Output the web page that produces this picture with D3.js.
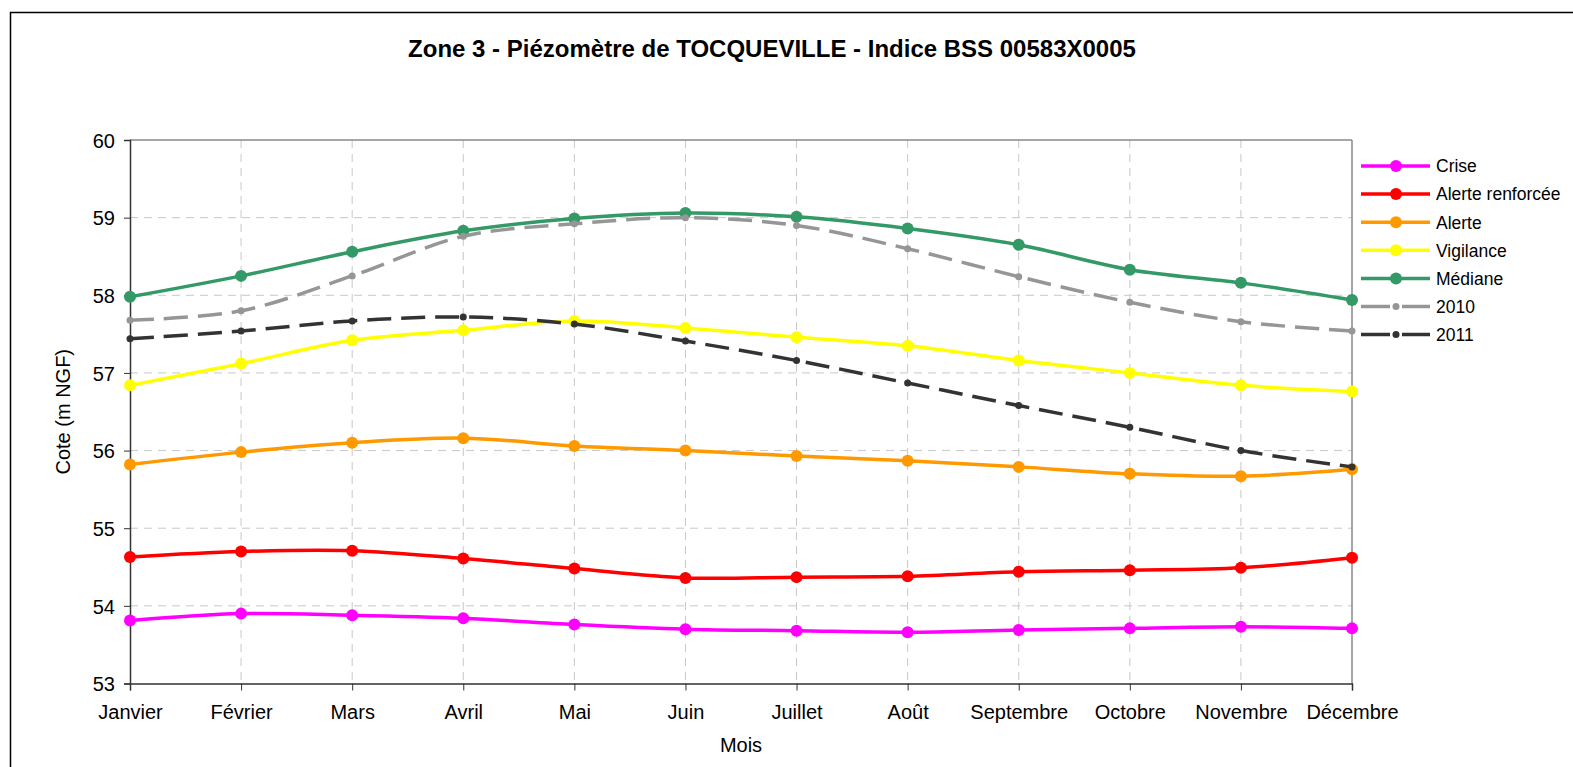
<!DOCTYPE html>
<html>
<head>
<meta charset="utf-8">
<script src="https://cdn.jsdelivr.net/npm/d3@7"></script>
<style>
	html, body { margin: 0; background: #fff; overflow: hidden; }
	svg { display: block; }
	text { font-family: "Liberation Sans", Arial, sans-serif; }
</style>
</head>
<body>
<div id="chart"></div>
<script>
var months = ["Janvier", "Février", "Mars", "Avril", "Mai", "Juin", "Juillet", "Août", "Septembre", "Octobre", "Novembre", "Décembre"];
var yTicks = [53, 54, 55, 56, 57, 58, 59, 60];

var crise = [53.81, 53.90, 53.88, 53.84, 53.76, 53.70, 53.68, 53.66, 53.69, 53.71, 53.73, 53.71];
var alerteRenforcee = [54.63, 54.70, 54.71, 54.61, 54.48, 54.36, 54.37, 54.38, 54.44, 54.46, 54.49, 54.62];
var alerte = [55.82, 55.98, 56.10, 56.16, 56.06, 56.00, 55.93, 55.87, 55.79, 55.70, 55.67, 55.76];
var vigilance = [56.84, 57.12, 57.42, 57.55, 57.67, 57.58, 57.46, 57.35, 57.16, 57.00, 56.84, 56.76];
var mediane = [57.98, 58.25, 58.56, 58.83, 58.99, 59.06, 59.01, 58.86, 58.65, 58.33, 58.16, 57.94];
var y2010 = [57.68, 57.80, 58.25, 58.76, 58.92, 59.00, 58.90, 58.60, 58.24, 57.91, 57.66, 57.54];
var y2011 = [57.44, 57.54, 57.67, 57.72, 57.63, 57.41, 57.16, 56.87, 56.58, 56.30, 56.00, 55.79];

var seriesNames = ["Crise", "Alerte renforcée", "Alerte", "Vigilance", "Médiane", "2010", "2011"];
var seriesValues = [crise, alerteRenforcee, alerte, vigilance, mediane, y2010, y2011];
var seriesColors = ["#ff00ff", "#ff0000", "#ff9900", "#ffff00", "#339966", "#969696", "#333333"];
var seriesDashed = [false, false, false, false, false, true, true];

var conf = {
	width: 1573, height: 767,
	left: 130, right: 1352, top: 140, bottom: 683.5
};

var $svg = d3.select("#chart").append("svg")
	.attr("width", conf.width)
	.attr("height", conf.height);

// outer frame (right / bottom edges run off the picture)
$svg.append("rect")
	.attr("x", 10.5).attr("y", 12.5)
	.attr("width", conf.width).attr("height", conf.height)
	.attr("fill", "none")
	.attr("stroke", "#000")
	.attr("stroke-width", 1.5);

var x = d3.scalePoint()
	.domain(months)
	.range([conf.left, conf.right]);

var y = d3.scaleLinear()
	.domain([53, 60])
	.range([conf.bottom, conf.top]);

// grid
var $grid = $svg.append("g").attr("class", "grid");
$grid.selectAll("line.hgrid").data(yTicks.slice(1, -1)).enter()
	.append("line")
	.attr("class", "hgrid")
	.attr("x1", conf.left).attr("x2", conf.right)
	.attr("y1", function(d) { return y(d); })
	.attr("y2", function(d) { return y(d); })
	.attr("stroke", "#c8c8c8")
	.attr("stroke-dasharray", "8,6");
$grid.selectAll("line.vgrid").data(months.slice(1, -1)).enter()
	.append("line")
	.attr("class", "vgrid")
	.attr("y1", conf.top).attr("y2", conf.bottom)
	.attr("x1", function(d) { return x(d); })
	.attr("x2", function(d) { return x(d); })
	.attr("stroke", "#c8c8c8")
	.attr("stroke-dasharray", "8,6");

// plot area top / right border
$svg.append("line")
	.attr("x1", conf.left).attr("x2", conf.right)
	.attr("y1", conf.top).attr("y2", conf.top)
	.attr("stroke", "#888").attr("stroke-width", 1.5);
$svg.append("line")
	.attr("x1", conf.right).attr("x2", conf.right)
	.attr("y1", conf.top).attr("y2", conf.bottom)
	.attr("stroke", "#888").attr("stroke-width", 1.5);

// axes
var $yAxis = $svg.append("g")
	.attr("transform", "translate(" + conf.left + ",0)")
	.call(d3.axisLeft(y).tickValues(yTicks).tickSize(6).tickPadding(9).tickFormat(d3.format("d")));
var $xAxis = $svg.append("g")
	.attr("transform", "translate(0," + conf.bottom + ")")
	.call(d3.axisBottom(x).tickSize(7).tickPadding(14));

[$xAxis, $yAxis].forEach(function($a) {
	$a.select(".domain").attr("stroke", "#333").attr("stroke-width", 1.5);
	$a.selectAll(".tick line").attr("stroke", "#333");
	$a.selectAll(".tick text")
		.attr("fill", "#000")
		.style("font-size", "20px");
});
$yAxis.selectAll(".tick text").attr("dy", "0.36em");

// series
var line = d3.line()
	.x(function(d, i) { return x(months[i]); })
	.y(function(d) { return y(d); })
	.curve(d3.curveCatmullRom.alpha(0.5));

seriesValues.forEach(function(vals, s_i) {
	var $s = $svg.append("g").attr("class", "series");
	$s.append("path")
		.attr("d", line(vals))
		.attr("fill", "none")
		.attr("stroke", seriesColors[s_i])
		.attr("stroke-width", 3.5)
		.attr("stroke-dasharray", seriesDashed[s_i] ? "24,10" : null);
	$s.selectAll("circle").data(vals).enter()
		.append("circle")
		.attr("cx", function(d, i) { return x(months[i]); })
		.attr("cy", function(d) { return y(d); })
		.attr("r", seriesDashed[s_i] ? 3.5 : 6)
		.attr("fill", seriesColors[s_i]);
});

// legend
var $legend = $svg.append("g").attr("transform", "translate(1361,166)");
var legendItems = $legend.selectAll("g").data(seriesNames).enter()
	.append("g")
	.attr("transform", function(d, i) { return "translate(0," + (i * 28.1) + ")"; });
legendItems.append("line")
	.attr("x1", 0).attr("x2", 69)
	.attr("stroke", function(d, i) { return seriesColors[i]; })
	.attr("stroke-width", 3.5)
	.attr("stroke-dasharray", function(d, i) { return seriesDashed[i] ? "29,12" : null; });
legendItems.append("circle")
	.attr("cx", 35)
	.attr("r", function(d, i) { return seriesDashed[i] ? 3.5 : 6; })
	.attr("fill", function(d, i) { return seriesColors[i]; });
legendItems.append("text")
	.attr("x", 75)
	.attr("dy", "0.36em")
	.style("font-size", "17.5px")
	.text(function(d) { return d; });

// titles
$svg.append("text")
	.attr("x", 772).attr("y", 57)
	.attr("text-anchor", "middle")
	.style("font-size", "24px")
	.style("font-weight", "bold")
	.text("Zone 3 - Piézomètre de TOCQUEVILLE - Indice BSS 00583X0005");

$svg.append("text")
	.attr("x", (conf.left + conf.right) / 2).attr("y", 752)
	.attr("text-anchor", "middle")
	.style("font-size", "20px")
	.text("Mois");

$svg.append("text")
	.attr("transform", "translate(70," + ((conf.top + conf.bottom) / 2) + ") rotate(-90)")
	.attr("text-anchor", "middle")
	.style("font-size", "20px")
	.text("Cote (m NGF)");
</script>
</body>
</html>
